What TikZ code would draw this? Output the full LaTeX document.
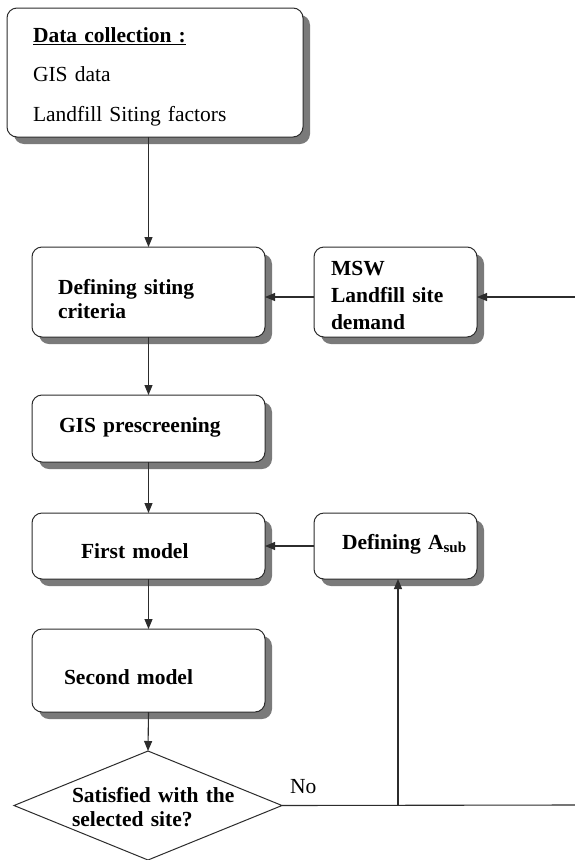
\documentclass[tikz,border=0pt]{standalone}
\usepackage{fontspec}
\setmainfont{Liberation Serif}
\usetikzlibrary{arrows.meta,shadows,shapes.geometric}

\definecolor{edge}{HTML}{2C2C2C}
\definecolor{shade}{HTML}{7A7A7A}

\begin{document}
\begin{tikzpicture}[x=1pt,y=-1pt,
  every node/.style={inner sep=0pt, outer sep=0pt},
  boxfont/.style={font=\fontsize{21.5}{24}\selectfont\bfseries},
  procbox/.style={draw=edge, line width=1pt, fill=white, rounded corners=10pt,
    anchor=north west, align=left, inner ysep=0pt, boxfont,
    drop shadow={shadow xshift=7pt, shadow yshift=-7pt, fill=shade, opacity=1}},
  arr/.style={draw=edge, line width=1.1pt, -{Triangle[length=10pt,width=8pt]}},
  plainline/.style={draw=edge, line width=1.1pt}]

% page area
\path[fill=white, use as bounding box] (0,0) rectangle (575,860);

% process boxes
\node[procbox, font=\fontsize{21.5}{39.5}\selectfont, inner xsep=26pt,
      text width=244pt, text height=34pt, text depth=95pt] (data) at (7,8)
  {\underline{\textbf{Data collection :}}\\GIS data\\Landfill Siting factors};

\node[procbox, inner xsep=26pt, text width=181pt,
      text height=47pt, text depth=43pt] (def) at (32,247)
  {Defining siting\\criteria};

\node[procbox, font=\fontsize{21.5}{27}\selectfont\bfseries, inner xsep=17pt,
      text width=129pt, text height=28pt, text depth=62pt] (msw) at (314,247)
  {MSW\\Landfill site\\demand};

\node[procbox, inner xsep=27pt, text width=179pt,
      text height=37pt, text depth=30pt] (gis) at (32,395)
  {GIS prescreening};

\node[procbox, inner xsep=49pt, text width=135pt,
      text height=45pt, text depth=21pt] (first) at (32,513)
  {First model};

\node[procbox, inner xsep=28pt, text width=107pt,
      text height=36pt, text depth=30pt] (asub) at (314,513)
  {\rlap{Defining A\textsubscript{sub}}};

\node[procbox, inner xsep=32pt, text width=169pt,
      text height=55pt, text depth=28pt] (second) at (32,629)
  {Second model};

% decision
\node[draw=edge, line width=1pt, fill=white, diamond,
      minimum width=268pt, minimum height=109pt] (dia) at (148,805.5) {};
\node[boxfont, anchor=base west, text width=200pt, align=left] (dtext) at (72,802)
  {Satisfied with the\\selected site?};
\node[font=\fontsize{21.5}{24}\selectfont, anchor=base west] (no) at (290,793) {No};

% connector end points
\coordinate (feed) at (575,297);
\coordinate (exitR) at (575,805);
\coordinate (jn) at (398,805);

% connectors
\draw[arr] (data.south -| def.north) -- (def.north);
\draw[arr] (feed) -- (feed -| msw.east);
\draw[arr] (msw.west |- feed) -- (def.east |- feed);
\draw[arr] (def.south) -- (gis.north);
\draw[arr] (gis.south) -- (first.north);
\draw[arr] (asub.west) -- (asub.west -| first.east);
\draw[arr] (first.south) -- (second.north);
\draw[arr] (second.south) -- (dia.north);
\draw[plainline] (dia.east) -- (exitR);
\draw[arr] (jn) -- (jn |- asub.south);
\end{tikzpicture}
\end{document}
